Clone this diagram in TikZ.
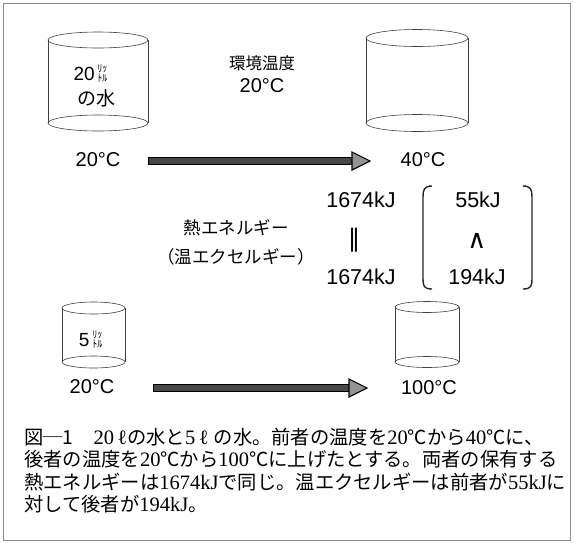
\documentclass[tikz,border=0pt]{standalone}
\usepackage{fontspec}
\usepackage{graphicx}
\setmainfont{Liberation Sans}
\newfontfamily\jp{Noto Sans CJK JP}
\newfontfamily\lser{Liberation Serif}
\newfontfamily\dvs{DejaVu Sans}
\usetikzlibrary{calc}

% litre sign, squeezed to a narrow stacked unit
\newcommand\litre{\scalebox{0.55}[1]{\jp ㍑}}
% Latin runs inside Japanese caption text
\newcommand\lt[1]{{\lser\fontsize{20.5}{21}\selectfont #1}}
% open tank: cx, rx, y top, y bottom, ry
\newcommand\tank[5]{%
  \draw[tankline] (#1,#3) ellipse [x radius=#2, y radius=#5];
  \draw[tankline] (#1,#4) ellipse [x radius=#2, y radius=#5];
  \draw[tankline] (#1-#2,#3) -- (#1-#2,#4) (#1+#2,#3) -- (#1+#2,#4);}
% broad process arrow between two named points: dark shaft, grey head
\newcommand\fatarr[2]{%
  \draw[arrowshaft] ($(#1)+(0,-3.2)$) -- ($(#2)+(-18,-3.2)$)
    -- ($(#2)+(-18,3.2)$) -- ($(#1)+(0,3.2)$) -- cycle;
  \draw[arrowhead] ($(#2)+(-18,-9)$) -- (#2) -- ($(#2)+(-18,9)$) -- cycle;}

\begin{document}
\begin{tikzpicture}[x=1pt,y=-1pt,
  lbl/.style={font=\fontsize{20}{24}\selectfont, inner sep=0pt},
  kj/.style={font=\fontsize{21.5}{24}\selectfont, inner sep=0pt},
  jlbl/.style={font=\jp\fontsize{17.5}{20}\selectfont, inner sep=0pt},
  tankline/.style={draw=black!75, line width=0.6pt},
  arrowshaft/.style={draw=black, line width=1pt, fill=black!72},
  arrowhead/.style={draw=black, line width=1.1pt, fill=black!42, line join=miter},
  brk/.style={draw=black!85, line width=1.4pt},
  captext/.style={font=\jp\fontsize{19.3}{21}\selectfont, inner sep=0pt, anchor=west}
]
\useasboundingbox (0,0) rectangle (575,542);
\draw[black!45, line width=0.8pt] (3,3) rectangle (570,540);

% 20 litre tank, heated from 20 to 40 degrees
\tank{98}{50}{40}{123}{8}
\node[lbl, font=\fontsize{19}{22}\selectfont] (v1a) at (91,74) {20\,\litre};
\node[lbl, font=\jp\fontsize{19}{22}\selectfont] (v1b) at (96,98) {の水};
\node[lbl] (t1) at (98,160) {20°C};
\node[jlbl, font=\jp\fontsize{16.5}{20}\selectfont] (env) at (262,63) {環境温度};
\node[lbl] (envt) at (262,86) {20°C};
\tank{417}{51}{38}{123}{8.5}
\node[lbl] (t2) at (423,160) {40°C};
\coordinate (a1s) at (148,161);
\coordinate (a1e) at (370,161);
\fatarr{a1s}{a1e}

% energy comparison
\node[jlbl] (h1) at (236,228) {熱エネルギー};
\node[jlbl] (h2) at (236,257) {（温エクセルギー）};
\node[kj] (e1) at (361,200) {1674kJ};
\node[font=\dvs\fontsize{24}{28}\selectfont, inner sep=0pt] (eq) at (354,240) {‖};
\node[kj] (e2) at (361,277) {1674kJ};
\node[kj] (x1) at (478,200) {55kJ};
\node[font=\dvs\fontsize{26}{30}\selectfont, inner sep=0pt] (lt) at (477,241) {∧};
\node[kj] (x2) at (477,277) {194kJ};
\draw[brk] (432,186) .. controls (424,186) and (423,190) .. (423,197)
  -- (423,279) .. controls (423,286) and (424,289) .. (432,289);
\draw[brk] (523,186) .. controls (531,186) and (532,190) .. (532,197)
  -- (532,279) .. controls (532,286) and (531,289) .. (523,289);

% 5 litre tank, heated from 20 to 100 degrees
\tank{93.5}{31.5}{308}{362}{6}
\node[lbl, font=\fontsize{19}{22}\selectfont] (v2) at (91,340) {5\,\litre};
\node[lbl] (t3) at (92,387) {20°C};
\tank{427}{32}{307}{362}{5.5}
\node[lbl] (t4) at (429,388) {100°C};
\coordinate (a2s) at (153,388);
\coordinate (a2e) at (367,388);
\fatarr{a2s}{a2e}

% caption
\node[captext] (cap1) at (24,437) {図─1\hspace{20pt}\lt{20\,ℓ}の水と\lt{5\,ℓ\ }の水。前者の温度を\lt{20}℃から\lt{40}℃に、};
\node[captext] (cap2) at (24,459.5) {後者の温度を\lt{20}℃から\lt{100}℃に上げたとする。両者の保有する};
\node[captext] (cap3) at (24,482) {熱エネルギーは\lt{1674kJ}で同じ。温エクセルギーは前者が\lt{55kJ}に};
\node[captext] (cap4) at (24,504) {対して後者が\lt{194kJ}。};
\end{tikzpicture}
\end{document}
